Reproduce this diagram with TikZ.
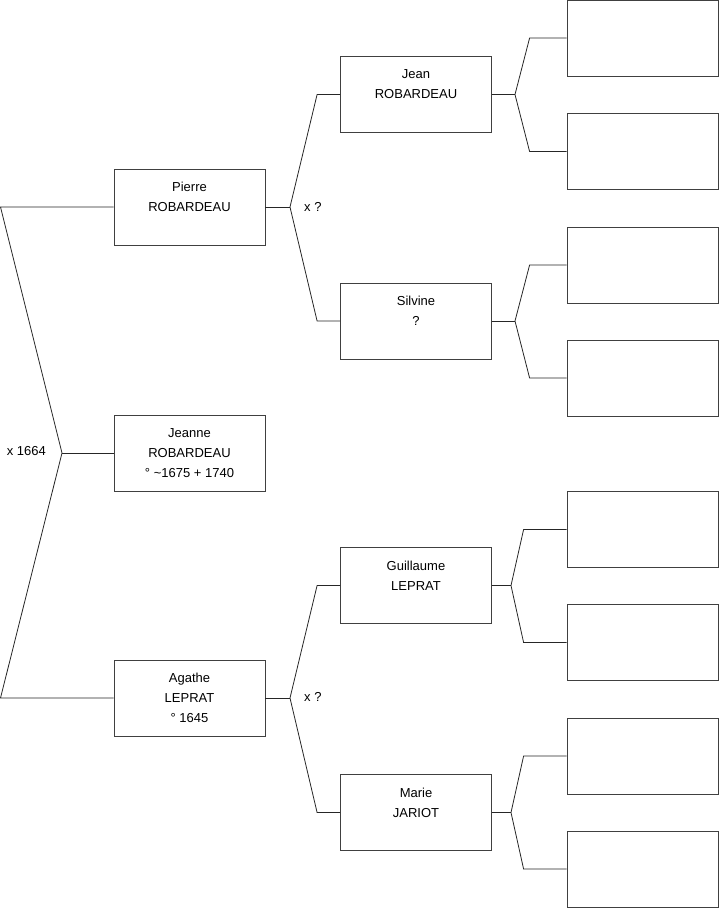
\documentclass[tikz,border=0pt]{standalone}
\usepackage{fontspec}
\setmainfont{Liberation Sans}
\usetikzlibrary{positioning,calc}

\begin{document}
\begin{tikzpicture}[x=1pt, y=-1pt,
  person/.style={draw=black!75, line width=0.8pt, minimum width=151pt,
                 minimum height=76pt, inner sep=0pt, align=center,
                 font=\fontsize{13}{20}\selectfont},
  link/.style={draw=black!85, line width=0.8pt},
  union/.style={font=\fontsize{13}{15}\selectfont, inner sep=0pt}
]
\useasboundingbox (0,0) rectangle (719,908);

% generation 1
\node[person] (jeanne) at (189.5,453) {Jeanne\\ROBARDEAU\\° \textasciitilde1675 + 1740};

% generation 2
\node[person] (pierre) at (189.5,207) {Pierre\\ROBARDEAU\\\mbox{}};
\node[person] (agathe) at (189.5,698) {Agathe\\LEPRAT\\° 1645};

% generation 3
\node[person] (jean)      at (416,94.5)  {Jean\\ROBARDEAU\\\mbox{}};
\node[person] (silvine)   at (416,321)   {Silvine\\?\\\mbox{}};
\node[person] (guillaume) at (416,585.5) {Guillaume\\LEPRAT\\\mbox{}};
\node[person] (marie)     at (416,812.5) {Marie\\JARIOT\\\mbox{}};

% generation 4 (empty)
\node[person] (e1) at (642.5,38)    {};
\node[person] (e2) at (642.5,151.5) {};
\node[person] (e3) at (642.5,265)   {};
\node[person] (e4) at (642.5,378)   {};
\node[person] (e5) at (642.5,529.5) {};
\node[person] (e6) at (642.5,642.5) {};
\node[person] (e7) at (642.5,756)   {};
\node[person] (e8) at (642.5,869)   {};

% forks
\coordinate (f0)  at (62,453);
\coordinate (f0a) at (0.5,207);
\coordinate (f0b) at (0.5,698);
\coordinate (f1)  at (290,207);
\coordinate (f2)  at (290,698);
\coordinate (f3)  at (515,94.5);
\coordinate (f4)  at (515,321);
\coordinate (f5)  at (511,585.5);
\coordinate (f6)  at (511,812.5);

\draw[link] (jeanne.west) -- (f0);
\draw[link] (pierre.west) -- (f0a) -- (f0) -- (f0b) -- (agathe.west);

\draw[link] (pierre.east) -- (f1);
\draw[link] (jean.west) -- ++(-23,0) -- (f1) -- ($(silvine.west)+(-23,0)$) -- (silvine.west);
\draw[link] (agathe.east) -- (f2);
\draw[link] (guillaume.west) -- ++(-23,0) -- (f2) -- ($(marie.west)+(-23,0)$) -- (marie.west);

\draw[link] (jean.east) -- (f3);
\draw[link] (e1.west) -- ++(-37,0) -- (f3) -- ($(e2.west)+(-37,0)$) -- (e2.west);
\draw[link] (silvine.east) -- (f4);
\draw[link] (e3.west) -- ++(-37,0) -- (f4) -- ($(e4.west)+(-37,0)$) -- (e4.west);
\draw[link] (guillaume.east) -- (f5);
\draw[link] (e5.west) -- ++(-43,0) -- (f5) -- ($(e6.west)+(-43,0)$) -- (e6.west);
\draw[link] (marie.east) -- (f6);
\draw[link] (e7.west) -- ++(-43,0) -- (f6) -- ($(e8.west)+(-43,0)$) -- (e8.west);

% unions
\node[union, anchor=east] (m0) at (46,451) {x 1664};
\node[union, anchor=west] (m1) at (304,207) {x ?};
\node[union, anchor=west] (m2) at (304,697) {x ?};

\end{tikzpicture}
\end{document}
